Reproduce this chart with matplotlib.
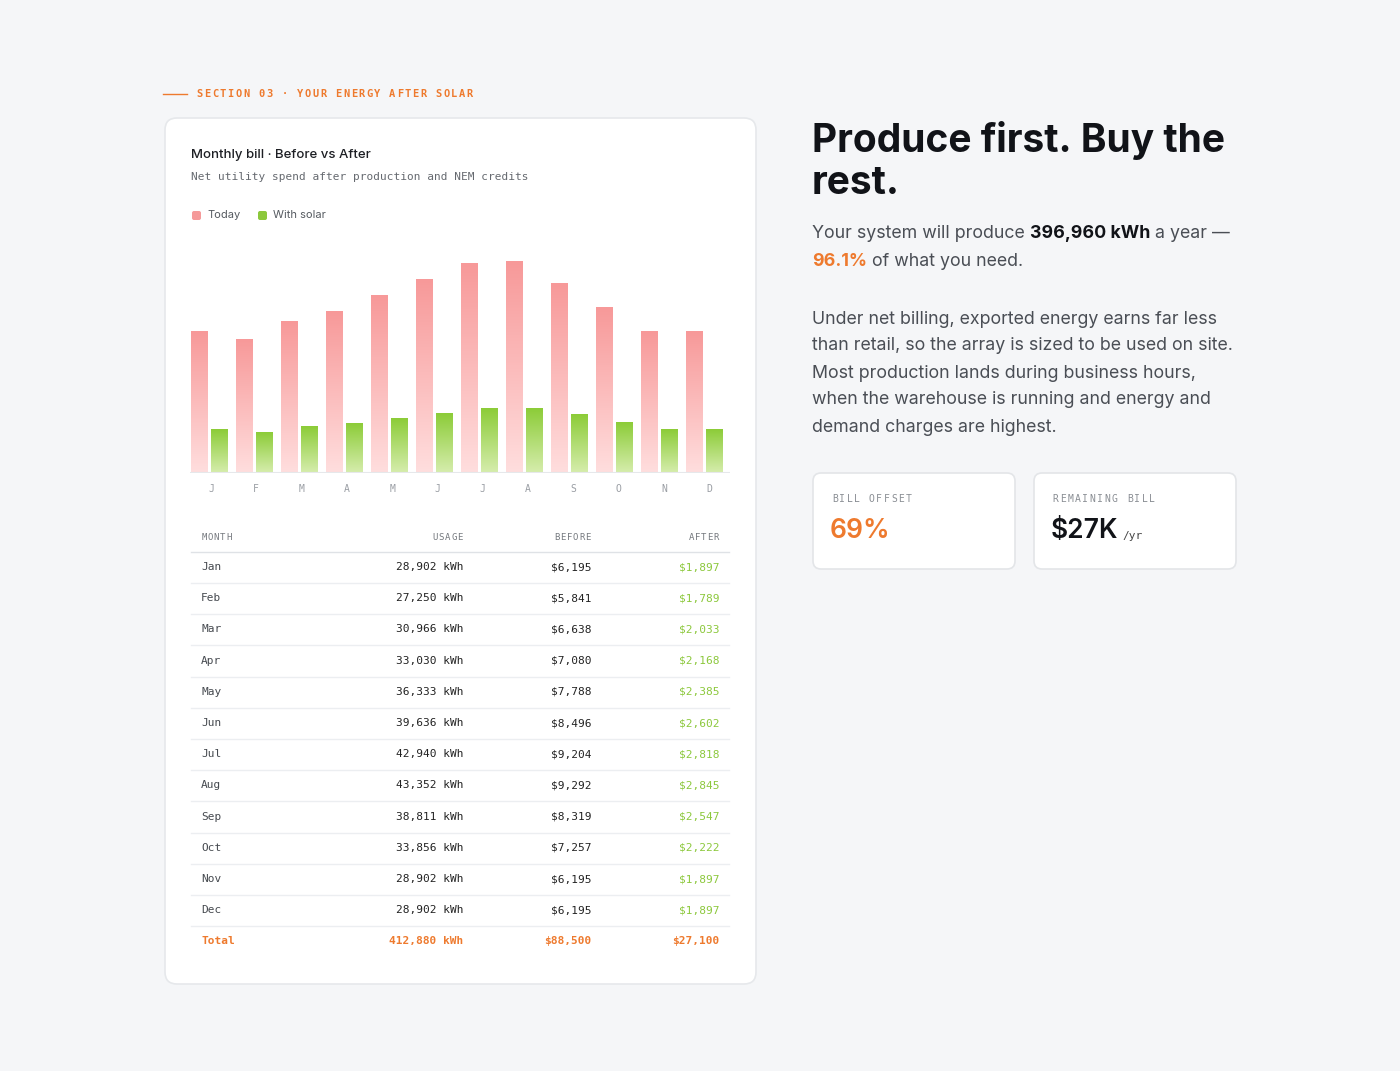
import numpy as np
import matplotlib.pyplot as plt
from matplotlib.patches import FancyBboxPatch

months = ['Jan', 'Feb', 'Mar', 'Apr', 'May', 'Jun', 'Jul', 'Aug', 'Sep', 'Oct', 'Nov', 'Dec']
initials = ['J', 'F', 'M', 'A', 'M', 'J', 'J', 'A', 'S', 'O', 'N', 'D']
usage_kwh = [28902, 27250, 30966, 33030, 36333, 39636, 42940, 43352, 38811, 33856, 28902, 28902]
before = [6195, 5841, 6638, 7080, 7788, 8496, 9204, 9292, 8319, 7257, 6195, 6195]
after = [1897, 1789, 2033, 2168, 2385, 2602, 2818, 2845, 2547, 2222, 1897, 1897]

W, H = 1400, 1071
fig = plt.figure(figsize=(14, 10.71), dpi=100)
fig.patch.set_facecolor('#f5f6f8')
SANS = ['Inter', 'DejaVu Sans']
MONO = ['DejaVu Sans Mono']
ORANGE = '#ee7a2e'
GREEN = '#8cc83c'


def fx(x):
    return x / W


def fy(y):
    return 1 - y / H


def txt(x, y, s, size, color='#1d1f24', family=SANS, **kw):
    return fig.text(fx(x), fy(y), s, fontsize=size, color=color, family=family, va='center', **kw)


def spaced(x, y, s, size, color, step, ha='left', **kw):
    # letter-spaced monospace label, drawn one glyph at a time
    if ha == 'right':
        x = x - step * len(s)
    for i, ch in enumerate(s):
        txt(x + i * step + step / 2, y, ch, size, color, MONO, ha='center', **kw)


# full-figure overlay axes for boxes
bg = fig.add_axes([0, 0, 1, 1])
bg.set_xlim(0, W)
bg.set_ylim(H, 0)
bg.axis('off')

bg.add_patch(FancyBboxPatch((165, 118), 591, 866, boxstyle='round,pad=0,rounding_size=12',
                            fc='white', ec='#e6e8eb', lw=1.2))
for x0 in (813, 1034):
    bg.add_patch(FancyBboxPatch((x0, 473), 202, 96, boxstyle='round,pad=0,rounding_size=8',
                                fc='white', ec='#e3e5e8', lw=1.2))

bg.plot([163, 187], [94, 94], color=ORANGE, lw=1)
spaced(196, 94, 'SECTION 03 · YOUR ENERGY AFTER SOLAR', 7.5, ORANGE, 7.7, fontweight='bold')

txt(191, 155, 'Monthly bill · Before vs After', 9.5, '#1d1f24', fontweight='medium')
txt(191, 177, 'Net utility spend after production and NEM credits', 8, '#666a70', MONO)
bg.add_patch(FancyBboxPatch((192, 211), 9, 9, boxstyle='round,pad=0,rounding_size=2', fc='#f59a9a', ec='none'))
txt(207, 215, 'Today', 8, '#555a60')
bg.add_patch(FancyBboxPatch((258, 211), 9, 9, boxstyle='round,pad=0,rounding_size=2', fc=GREEN, ec='none'))
txt(273, 215, 'With solar', 8, '#555a60')

# bar chart
ax = fig.add_axes([fx(190), fy(473), fx(730) - fx(190), fy(245) - fy(473)])
grad = np.linspace(0, 1, 100).reshape(-1, 1)
pink_top, pink_bot = np.array([0.97, 0.60, 0.60]), np.array([1.0, 0.87, 0.87])
green_top, green_bot = np.array([0.55, 0.80, 0.22]), np.array([0.84, 0.93, 0.68])
pink_img = pink_top * grad[..., None] + pink_bot * (1 - grad[..., None])
green_img = green_top * grad[..., None] + green_bot * (1 - grad[..., None])
bw = 0.37
for i in range(12):
    ax.imshow(pink_img, extent=[i + 0.02, i + 0.02 + bw, 0, before[i]], aspect='auto', origin='lower', zorder=2)
    ax.imshow(green_img, extent=[i + 0.46, i + 0.46 + bw, 0, after[i]], aspect='auto', origin='lower', zorder=2)
ax.axhline(0, color='#e6e8eb', lw=1.5)
ax.set_xlim(0, 12)
ax.set_ylim(0, 10000)
ax.axis('off')
for i, m in enumerate(initials):
    txt(211 + i * 45.3, 489, m, 7, '#9a9ea4', MONO, ha='center')

# table
cols = [(201, 'left'), (463, 'right'), (591, 'right'), (719, 'right')]
for (x, ha), h in zip(cols, ['MONTH', 'USAGE', 'BEFORE', 'AFTER']):
    spaced(x, 538, h, 6.5, '#75797f', 6.2, ha=ha)
bg.plot([191, 729], [552, 552], color='#dfe2e6', lw=1)
fs = 8
for i, m in enumerate(months):
    y = 567 + i * 31.2
    txt(cols[0][0], y, m, fs, '#45494f', MONO, ha='left')
    txt(cols[1][0], y, f'{usage_kwh[i]:,} kWh', fs, '#222', MONO, ha='right')
    txt(cols[2][0], y, f'${before[i]:,}', fs, '#222', MONO, ha='right')
    txt(cols[3][0], y, f'${after[i]:,}', fs, GREEN, MONO, ha='right')
    bg.plot([191, 729], [y + 16, y + 16], color='#eceef1', lw=1)
ty = 567 + 12 * 31.2
txt(cols[0][0], ty, 'Total', fs, ORANGE, MONO, ha='left', fontweight='bold')
txt(cols[1][0], ty, f'{sum(usage_kwh):,} kWh', fs, ORANGE, MONO, ha='right', fontweight='bold')
txt(cols[2][0], ty, f'${sum(before):,}', fs, ORANGE, MONO, ha='right', fontweight='bold')
txt(cols[3][0], ty, f'${round(sum(after), -2):,}', fs, ORANGE, MONO, ha='right', fontweight='bold')

# right column
txt(812, 141, 'Produce first. Buy the', 28, '#111318', fontweight='bold')
txt(812, 183, 'rest.', 28, '#111318', fontweight='bold')
body = '#4a4e55'
bs = 12.8
fig.canvas.draw()
r = fig.canvas.get_renderer()


def after_of(t):
    return t.get_window_extent(r).x1 / W


t1 = txt(812, 234, 'Your system will produce ', bs, body)
t2 = fig.text(after_of(t1), fy(234), '396,960 kWh', fontsize=bs, color='#111318', family=SANS, va='center', fontweight='bold')
fig.text(after_of(t2), fy(234), ' a year —', fontsize=bs, color=body, family=SANS, va='center')
t4 = txt(812, 261, '96.1%', bs, ORANGE, fontweight='bold')
fig.text(after_of(t4), fy(261), ' of what you need.', fontsize=bs, color=body, family=SANS, va='center')
para = ['Under net billing, exported energy earns far less',
        'than retail, so the array is sized to be used on site.',
        'Most production lands during business hours,',
        'when the warehouse is running and energy and',
        'demand charges are highest.']
for i, line in enumerate(para):
    txt(812, 319 + i * 27, line, bs, body)

spaced(831, 499, 'BILL OFFSET', 7, '#8a8e94', 7.4)
txt(830, 531, '69%', 19, ORANGE, fontweight='semibold')
spaced(1052, 499, 'REMAINING BILL', 7, '#8a8e94', 7.4)
k = txt(1051, 531, '$27K', 19, '#111318', fontweight='semibold')
fig.canvas.draw()
fig.text(after_of(k) + 0.003, fy(536), '/yr', fontsize=8, color='#444', family=MONO, va='center')

fig.savefig('out.png', dpi=100, facecolor=fig.get_facecolor())
